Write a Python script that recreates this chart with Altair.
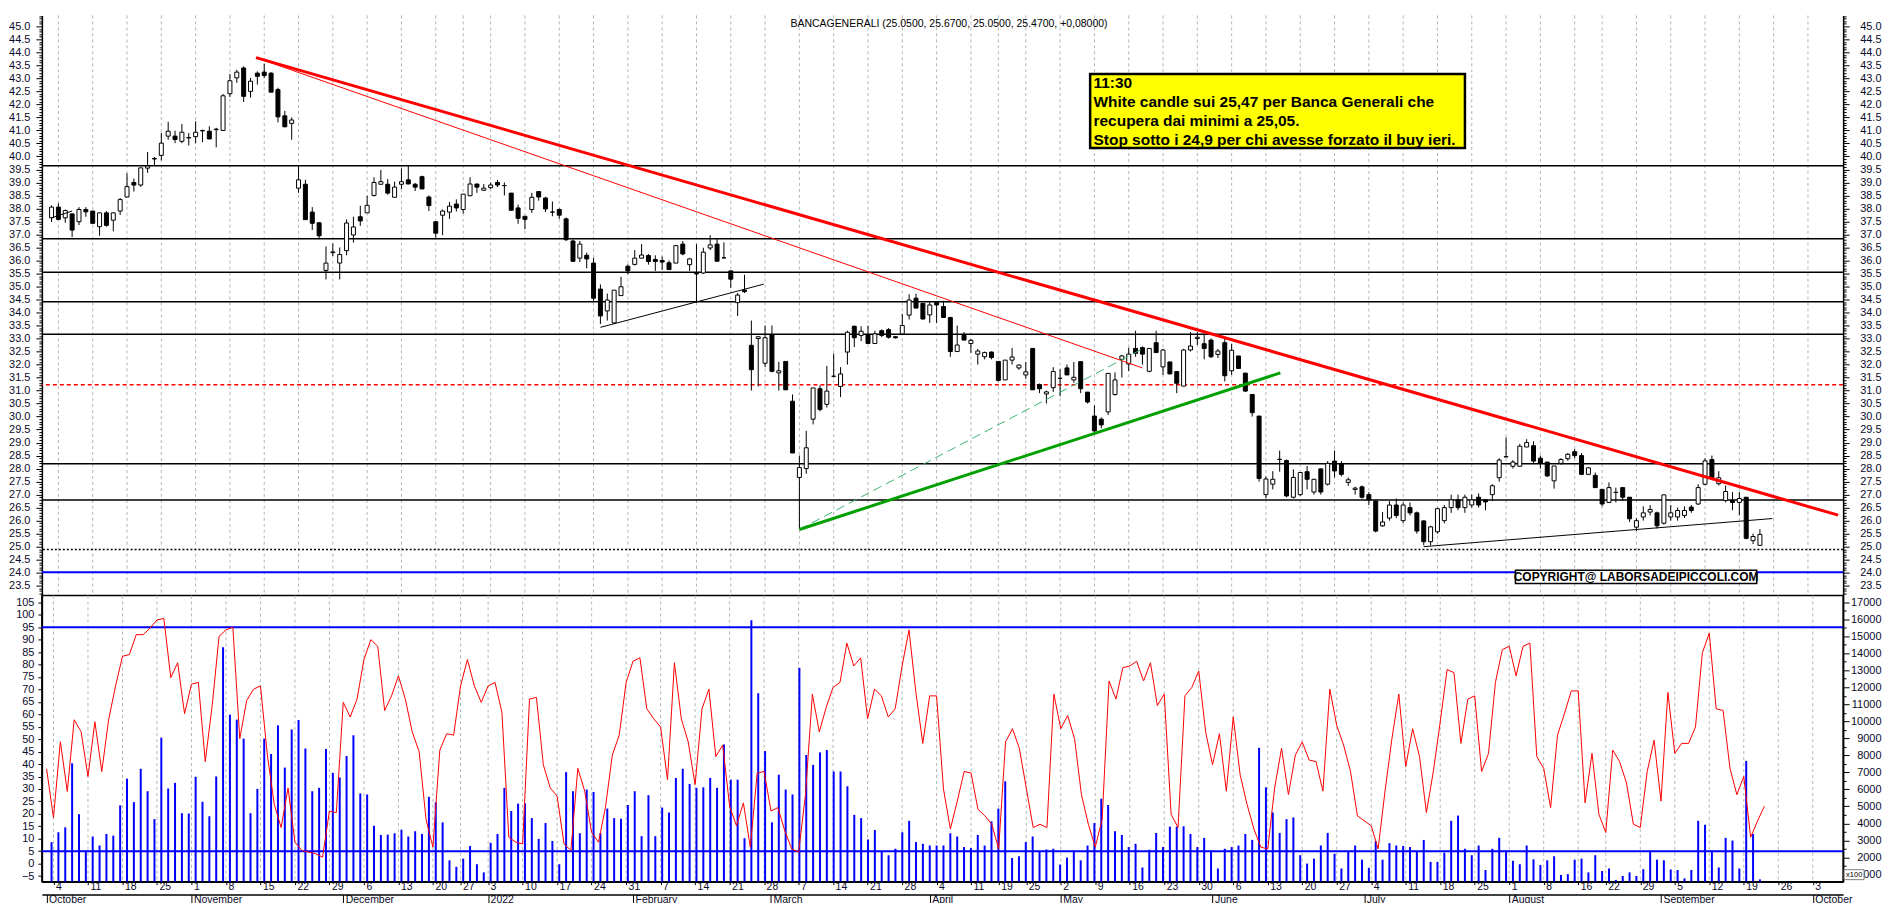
import json
import altair as alt
import pandas as pd

# ---------------- data ----------------
opens = [37.64,38.05,37.64,37.79,37.49,37.96,37.9,37.3,37.83,37.55,37.9,38.44,39.0,38.9,39.55,39.9,40.04,40.78,40.78,40.58,
         40.71,40.76,40.98,40.97,41.03,41.0,42.41,43.02,43.4,42.5,43.2,43.24,43.2,42.57,41.56,41.27,38.78,38.93,37.86,37.45,
         35.62,36.3,35.9,36.38,36.98,37.68,37.83,38.5,38.93,38.93,38.43,38.93,39.1,38.93,39.22,38.44,37.49,37.74,37.86,38.17,
         37.96,38.49,38.94,38.7,38.8,39.0,38.88,38.59,38.02,37.7,37.96,38.65,38.4,37.86,37.96,37.6,36.75,36.09,36.2,35.9,
         34.9,34.06,33.6,34.65,35.78,35.85,36.09,36.19,36.04,36.0,35.91,35.9,36.63,35.84,35.48,35.52,36.48,36.63,36.1,35.6,
         34.38,34.86,32.74,33.0,32.05,33.15,31.68,32.12,30.59,27.66,28.0,29.9,31.07,30.47,31.55,31.16,32.48,33.47,33.12,33.15,
         32.81,33.3,33.34,33.07,33.18,33.9,34.55,34.35,33.91,34.38,34.23,33.81,32.5,33.13,32.81,32.4,32.3,32.48,32.12,31.41,
         32.17,31.87,31.6,32.62,31.23,30.87,31.11,31.47,31.87,31.41,32.11,30.94,30.02,29.9,30.18,30.85,32.2,32.02,32.62,32.65,
         31.74,32.84,31.91,32.1,31.73,31.17,32.56,33.0,32.8,32.94,32.39,32.84,31.76,32.33,31.67,30.85,30.02,27.0,27.4,28.35,
         28.31,26.9,27.0,27.88,27.1,27.99,27.4,28.29,28.19,27.47,27.2,27.3,27.0,26.75,25.8,26.1,26.6,26.0,26.5,26.3,
         25.99,25.19,25.57,26.0,26.5,26.8,26.5,26.6,26.9,26.8,27.0,27.65,28.45,28.09,28.09,28.83,28.88,28.4,28.25,27.53,
         28.2,28.38,28.65,28.5,27.78,27.74,27.2,26.7,27.08,27.27,26.9,25.75,26.14,26.33,26.3,25.9,26.14,26.14,26.2,26.52,
         26.64,27.4,28.35,27.42,26.77,26.77,26.7,26.9,25.23,25.05]
highs = [38.12,38.2,37.96,37.8,38.05,38.05,37.9,37.83,37.9,37.85,38.4,39.35,39.15,39.56,40.17,39.98,40.9,41.33,40.99,41.25,
         40.9,41.35,41.03,41.16,41.1,42.4,43.17,43.33,43.46,43.02,43.27,43.56,43.24,42.64,41.75,41.5,39.67,39.1,38.05,37.45,
         36.54,36.65,36.5,37.58,37.68,38.1,38.49,39.2,39.48,39.13,39.03,39.54,39.64,38.98,39.26,38.5,37.49,37.96,38.25,38.35,
         38.55,39.2,38.94,38.94,39.0,39.1,39.0,38.59,38.15,37.7,38.6,38.65,38.45,38.27,38.0,37.65,36.8,36.75,36.3,36.1,
         35.08,34.73,34.86,35.37,35.85,36.4,36.63,36.25,36.2,36.15,36.0,36.6,36.75,36.1,36.63,36.49,36.97,36.85,36.7,35.6,
         34.75,35.45,33.69,33.07,33.5,33.5,32.1,32.12,30.85,28.5,29.45,31.1,31.2,31.95,32.42,31.9,33.3,33.5,33.47,33.5,
         33.3,33.35,33.4,33.1,33.95,34.7,34.72,34.35,34.44,34.4,34.45,33.81,33.5,33.25,32.98,32.6,32.5,32.5,32.12,32.17,
         32.64,32.0,32.1,32.62,31.27,31.0,31.9,31.82,32.0,32.1,32.11,30.94,30.43,29.97,31.66,31.7,32.37,32.65,33.3,32.7,
         32.62,33.3,32.6,32.1,31.75,32.6,33.25,33.25,33.2,33.0,32.6,33.05,32.8,32.33,31.68,30.85,30.02,27.7,27.9,28.69,
         28.35,27.97,27.85,28.1,27.6,27.99,28.29,28.69,28.29,27.66,27.3,27.35,27.1,26.8,26.33,26.75,26.85,26.7,26.7,26.35,
         26.0,25.8,26.5,26.6,27.0,27.0,27.0,27.0,27.05,26.8,27.4,28.4,29.2,28.33,28.95,29.13,29.05,28.5,28.25,28.1,
         28.4,28.6,28.75,28.6,28.05,27.85,27.2,27.47,27.27,27.27,26.9,26.1,26.55,26.6,26.35,27.0,26.6,26.5,26.55,26.6,
         27.4,28.4,28.5,27.9,27.35,27.1,27.1,26.9,25.5,25.67]
lows = [37.48,37.55,37.45,36.9,37.36,37.68,37.4,36.95,37.3,37.12,37.75,38.43,38.65,38.83,39.37,39.66,39.85,40.64,40.51,40.51,
        40.42,40.51,40.55,40.67,40.35,41.0,42.28,42.83,42.09,42.26,42.76,43.02,42.47,41.31,41.12,40.64,38.6,37.57,37.17,36.82,
        35.27,36.17,35.27,36.2,36.69,37.33,37.83,38.46,38.93,38.53,38.43,38.75,38.94,38.67,38.75,37.9,36.88,36.97,37.6,37.88,
        37.81,38.47,38.6,38.68,38.75,38.82,38.5,37.93,37.41,37.2,37.83,38.3,37.86,37.7,37.6,36.75,35.95,35.94,35.7,34.45,
        33.56,33.69,33.56,34.65,35.47,35.81,36.09,35.84,35.6,35.64,35.65,35.9,36.2,35.6,34.38,35.48,36.4,35.97,36.08,34.95,
        33.87,34.75,31.0,31.16,31.9,31.7,31.0,31.03,28.6,25.68,27.8,29.7,30.2,30.35,31.5,30.75,32.0,32.67,32.9,32.81,
        32.81,33.05,33.0,33.0,33.15,33.73,34.17,33.73,33.6,33.6,33.81,32.3,32.5,32.94,32.45,32.0,32.2,32.2,31.35,31.41,
        32.0,31.8,31.45,31.03,30.9,30.5,30.95,30.78,31.6,31.3,30.9,30.5,29.39,29.55,30.06,30.8,31.5,31.75,32.3,32.0,
        31.7,32.46,31.6,31.62,30.9,31.17,32.5,32.75,32.2,32.25,32.25,31.35,31.6,31.85,30.95,30.0,27.5,26.85,27.2,27.88,
        26.9,26.85,26.95,27.2,27.0,27.0,27.35,27.66,27.7,27.34,27.0,26.85,26.6,25.55,25.76,26.0,26.1,25.9,26.2,25.5,
        25.05,25.05,25.5,25.9,26.3,26.4,26.3,26.5,26.5,26.4,26.75,27.5,28.43,28.0,28.09,28.83,28.2,28.0,27.68,27.23,
        28.15,28.3,28.4,27.75,27.75,27.27,26.55,26.7,26.7,26.75,25.95,25.6,26.0,26.2,25.7,25.85,26.0,26.0,26.1,26.3,
        26.6,27.35,27.6,27.35,26.7,26.4,26.2,25.28,25.1,25.05]
closes = [38.05,37.58,37.92,37.17,37.96,37.87,37.43,37.83,37.35,37.83,38.34,38.84,38.9,39.56,39.63,39.92,40.51,40.97,40.65,40.93,
          40.73,40.93,41.0,40.67,41.05,42.33,42.91,43.24,42.31,42.89,43.08,43.11,42.47,41.52,41.14,41.4,39.1,37.57,37.43,36.95,
          35.9,36.33,36.23,37.44,37.29,37.52,38.12,39.0,39.03,38.59,38.82,39.03,38.94,38.82,38.75,38.11,37.05,37.9,38.09,38.02,
          38.55,38.94,38.82,38.78,38.9,38.9,38.88,37.93,37.62,37.58,38.43,38.44,37.98,37.86,37.74,36.8,35.97,36.63,36.06,34.55,
          33.87,34.48,34.86,34.99,35.6,36.09,36.21,35.96,35.96,35.94,35.65,36.57,36.25,36.06,35.5,36.32,36.6,35.97,36.1,35.28,
          34.67,34.8,31.8,33.07,33.03,31.74,31.76,31.03,28.6,28.04,28.8,31.1,30.27,30.98,31.55,31.64,33.24,33.03,33.28,32.81,
          33.18,33.12,33.05,33.03,33.5,34.48,34.17,33.75,34.29,34.29,33.81,32.5,32.75,32.94,32.93,32.52,32.46,32.27,31.39,32.17,
          32.29,31.98,31.72,31.03,31.07,30.95,31.73,31.47,31.6,31.51,31.07,30.56,29.45,29.68,31.66,31.41,32.33,32.4,32.43,32.4,
          32.62,32.46,32.56,31.64,31.28,32.56,32.71,33.05,32.62,32.3,32.52,31.57,32.55,31.85,30.98,30.15,27.62,27.6,27.59,28.36,
          26.95,27.66,27.85,27.59,27.59,27.1,28.2,27.91,27.78,27.57,27.25,26.9,26.8,25.6,25.95,26.6,26.2,26.6,26.3,25.6,
          25.19,25.76,26.46,26.5,26.8,26.5,26.9,26.8,26.6,26.72,27.34,28.33,28.46,28.25,28.86,29.0,28.29,28.2,27.72,28.1,
          28.35,28.55,28.5,27.78,28.03,27.27,26.64,27.27,27.09,26.9,26.07,26.0,26.3,26.43,25.8,26.99,26.3,26.39,26.39,26.39,
          27.27,28.3,27.65,27.65,27.12,26.7,26.85,25.32,25.39,25.47]
volumes = [2900,3480,3770,7530,4540,2410,3230,2700,3380,3280,5060,6630,5250,7210,5890,4250,9040,6050,6380,4600,
           4580,6740,5270,4420,6760,14350,10390,10100,8980,4600,6030,8980,8080,9760,7280,9520,10080,8400,5890,6090,
           8370,6970,6700,7960,9180,5760,5700,3860,3320,3340,3420,3630,3230,3540,3380,5560,5240,4060,1830,1450,
           1930,2670,1600,1120,2860,3380,6090,4730,5160,5180,4310,3090,4020,2960,1600,7010,5890,3420,5990,5850,
           3420,4870,4310,4270,5080,5890,3250,5660,3250,4930,4640,6670,7210,6320,6090,6120,6670,6090,8640,6570,
           6570,3130,15940,11650,8250,4060,6860,5990,5700,13140,8020,7440,8170,8310,7050,7050,6180,4500,4310,3050,
           3610,2320,2130,2510,3480,4150,2900,2800,2700,2700,2700,3420,3230,2610,2550,3320,2700,4120,4870,6470,
           1970,2070,2900,3230,2320,2470,2510,1580,1990,2410,1830,2700,4020,5450,5080,3540,3320,2610,2800,1410,
           2450,3440,2610,3810,3810,3830,3380,2610,3150,2410,1350,2510,2610,2700,3380,3030,8440,6120,4640,3440,
           4250,4350,2130,1640,1930,2700,3440,2220,1350,2320,2700,1870,1390,2960,1870,2840,2700,2670,2610,2320,
           3030,1740,1740,2280,4150,4460,2510,2130,2700,1260,2510,3150,2410,1800,1600,2700,1890,1550,1830,2070,
           970,1020,1870,1930,1120,2130,1200,1350,680,910,1120,910,1310,2410,1870,1830,1290,1260,770,1260,
           4150,3920,2410,1410,3150,2990,1350,7670,3380,710]
osc = [38,18.5,49,29,57.8,53,35,57,37,58,71.4,83.3,84,92,92,94.6,97.9,98.5,74.7,80.7,
       60.2,72.1,72.8,41,63.5,91.3,93.9,95,50.2,65.5,70.1,71.4,43.6,23.8,14.5,30.4,8.6,5.3,4.6,4,
       2.6,21.1,20.5,64.8,58.9,66.1,82,90,87.3,61.5,67.4,75.4,66.1,52.9,45,17.8,6.6,45.6,52.2,51.6,
       71.4,82,71.4,64.8,71.4,72.8,60.8,10.6,8.6,7.9,66.1,66.8,39.7,30.4,27.1,7.9,5.3,38.3,29.1,12.5,
       8.6,22.5,43.6,51.6,72.8,81.3,82.7,62.2,58.2,54.9,33.7,80.7,58.2,48.9,31.7,62.2,70.1,43,47.6,23.1,
       15.2,24.4,6.6,36.4,37,21.1,22.5,13.2,5.9,4.6,27.7,68.1,52.9,62.8,70.8,72.8,88.6,79.4,82.7,58.2,
       70.1,67.4,58.9,62.2,79.4,93.9,68.8,48.3,67.4,67.4,30,13.9,25.1,37,36.4,21.8,19.2,15.8,5.9,48.9,
       54.2,46.3,30.4,14.5,15.8,14.5,68.1,54.2,59.5,50.2,27.7,15.8,6.6,17.8,73.4,66.1,78.7,79.4,81.3,73.4,
       80.7,63.5,68.1,19.8,14.5,67.4,70.8,77.4,52.9,39.7,52.2,29.1,58.9,35.7,23.8,13.9,6.6,5.9,30.4,46.3,
       27.7,43.6,48.9,41.6,41,29.1,70.1,55.5,47.6,37,19.2,17.2,15.2,5.9,29.1,50.2,68.1,39,54.2,43,
       20.5,37,56.9,78,76.7,48.3,66.1,67.4,37,44.3,72.8,86,87.3,75.4,87.3,88.6,43,38.3,22.5,51.6,
       60.2,69.4,69.4,24.4,44.3,19.8,12.5,45.6,41,32.4,15.8,14.5,37,49.6,25.1,68.8,44.3,48.3,48.3,54.9,
       84.7,92.6,62.2,61.5,38.3,27.7,35,10.6,17.2,23.1]

week_ticks = [1,6,11,16,21,26,31,36,41,46,51,56,60,64,69,74,79,84,89,94,99,104,109,114,119,124,129,134,138,142,
              147,152,157,162,167,172,177,182,187,192,197,202,207,212,217,222,226,231,236,241,246,251,256]
week_labels = ['4','11','18','25','1','8','15','22','29','6','13','20','27','3','10','17','24','31','7','14','21','28',
               '7','14','21','28','4','11','19','25','2','9','16','23','30','6','13','20','27','4','11','18','25',
               '1','8','16','22','29','5','12','19','26','3']
month_ticks = [0,21,43,64,85,105,128,147,169,191,212,234,256]
month_labels = ['October','November','December','2022','February','March','April','May','June','July','August',
                'September','October']

levels_black = [39.64,36.84,35.55,34.41,33.16,28.19,26.79]
level_red_dashed = [31.22]
level_dotted = [24.89]
level_blue = [24.02]
osc_levels = [95,5]

# trend lines drawn on the chart: (start index, start price, end index, end price)
tl_red_thick = [(29.8,43.8,260.4,26.21)]
tl_red_thin = [(29.8,43.8,159.0,31.87)]
tl_green_thick = [(109.0,25.66,179.1,31.68)]
tl_green_dash = [(109.0,25.66,159.0,32.6)]
tl_black = [(80.0,33.43,103.8,35.09),(200.0,25.0,250.8,26.08),(0.0,37.64,3.0,37.9)]

title_text = "BANCAGENERALI (25.0500, 25.6700, 25.0500, 25.4700, +0,08000)"
note_text = "11:30\nWhite candle sui 25,47 per Banca Generali che\nrecupera dai minimi a 25,05.\nStop sotto i 24,9 per chi avesse forzato il buy ieri."
copyright_text = "COPYRIGHT@ LABORSADEIPICCOLI.COM"
scale_note = "x100"

# ---------------- layout ----------------
W = 1807
H_TOP = 582
H_BOT = 287
X_DOM = [-0.68, 260.4]
P_DOM = [23.12, 45.42]
O_DOM = [-7.25, 107.7]
V_DOM = [577, 17388]
FONT = "Liberation Sans"
LBL = "#0a0a2a"
GRID = "#b5b5b5"

N = len(opens)
df = pd.DataFrame({"i": list(range(N)), "o": opens, "h": highs, "l": lows, "c": closes,
                   "v": volumes, "s": osc})

xs = alt.Scale(domain=X_DOM, nice=False, zero=False)
ps = alt.Scale(domain=P_DOM, nice=False, zero=False)
oscs = alt.Scale(domain=O_DOM, nice=False, zero=False)
vs = alt.Scale(domain=V_DOM, nice=False, zero=False)


def xq(f="i", axis=None):
    return alt.X(f"{f}:Q", scale=xs, axis=axis)


def py(f, axis=None):
    return alt.Y(f"{f}:Q", scale=ps, axis=axis)


half_test = "abs(datum.value*2 - round(datum.value*2)) < 0.01"
price_vals = [round(23.2 + 0.1 * k, 1) for k in range(223)]
axis_common = dict(labelFont=FONT, labelFontSize=11, labelColor=LBL, domainColor="black", domainWidth=1.5,
                   tickColor="black", tickWidth=1, grid=False, title=None, labelOverlap=False,
                   labelFlush=False, labelBound=False)
left_price_axis = alt.Axis(orient="left", values=price_vals,
                           labelExpr=f"{half_test} ? format(datum.value, '.1f') : ''",
                           tickSize={"condition": {"test": half_test, "value": 6}, "value": 3},
                           labelPadding=6, **axis_common)
right_price_axis = alt.Axis(orient="right", values=price_vals,
                            labelExpr=f"{half_test} ? format(datum.value, '.1f') : ''",
                            tickSize={"condition": {"test": half_test, "value": 6}, "value": 3},
                            labelAlign="right", labelPadding=32, **axis_common)

grid_df = pd.DataFrame({"t": week_ticks})


def grid_layer():
    return alt.Chart(grid_df).mark_rule(color=GRID, strokeDash=[3, 3], strokeWidth=1).encode(x=xq("t"))


def hline(vals, scale, **style):
    d = pd.DataFrame({"p": vals})
    return alt.Chart(d).mark_rule(**style).encode(y=alt.Y("p:Q", scale=scale, axis=None))


def tline(segs, **style):
    d = pd.DataFrame(segs, columns=["x1", "y1", "x2", "y2"])
    return alt.Chart(d).mark_rule(clip=True, **style).encode(
        x=xq("x1"), x2="x2:Q", y=py("y1"), y2="y2:Q")


wicks = alt.Chart(df).mark_rule(color="black", strokeWidth=1).encode(
    x=xq(), y=py("l", left_price_axis), y2="h:Q")
bodies = alt.Chart(df).mark_bar(size=4, stroke="black", strokeWidth=1).encode(
    x=xq(), y=py("o"), y2="c:Q",
    fill=alt.condition("datum.c >= datum.o", alt.value("white"), alt.value("black")))
right_axis_layer = alt.Chart(df).mark_point(opacity=0).encode(x=xq(), y=py("h", right_price_axis))

title = alt.Chart(pd.DataFrame({"t": [title_text]})).mark_text(
    align="left", baseline="middle", font=FONT, fontSize=10.5, color="black").encode(
    text="t:N", x=alt.value(751), y=alt.value(9))
note_box = alt.Chart(pd.DataFrame({"t": [0]})).mark_rect(fill="#ffff00", stroke="black", strokeWidth=2.5).encode(
    x=alt.value(1051.6), x2=alt.value(1427.6), y=alt.value(58.7), y2=alt.value(132.9))
note = alt.Chart(pd.DataFrame({"t": [note_text]})).mark_text(
    align="left", baseline="alphabetic", font=FONT, fontSize=15.5, fontWeight="bold", color="black",
    lineBreak="\n", lineHeight=18.9).encode(text="t:N", x=alt.value(1055), y=alt.value(73.2))
copy_box = alt.Chart(pd.DataFrame({"t": [0]})).mark_rect(fill="white", stroke="black", strokeWidth=1.5).encode(
    x=alt.value(1478.3), x2=alt.value(1720.3), y=alt.value(556.7), y2=alt.value(569.8))
copy_txt = alt.Chart(pd.DataFrame({"t": [copyright_text]})).mark_text(
    align="center", baseline="middle", font="Liberation Sans Narrow, Arial Narrow, Liberation Sans",
    fontSize=12, fontWeight="bold", color="black").encode(text="t:N", x=alt.value(1599.3), y=alt.value(563.5))

top = alt.layer(
    grid_layer(),
    hline(levels_black, ps, color="black", strokeWidth=1.5),
    hline(level_red_dashed, ps, color="#ff0000", strokeWidth=1.5, strokeDash=[4, 3]),
    hline(level_dotted, ps, color="black", strokeWidth=1.5, strokeDash=[2, 2]),
    hline(level_blue, ps, color="#0000ff", strokeWidth=2),
    wicks, bodies,
    tline(tl_red_thin, color="#ff0000", strokeWidth=1),
    tline(tl_red_thick, color="#ff0000", strokeWidth=3),
    tline(tl_green_dash, color="#3cb371", strokeWidth=1, strokeDash=[9, 5]),
    tline(tl_green_thick, color="#00a000", strokeWidth=3),
    tline(tl_black, color="black", strokeWidth=1),
    right_axis_layer,
    title, note_box, note, copy_box, copy_txt,
).properties(width=W, height=H_TOP, view=alt.ViewBackground(stroke="transparent")).resolve_scale(y="independent")

# ---------------- lower panel ----------------
osc_axis = alt.Axis(orient="left", values=list(range(-5, 110, 5)), tickSize=4, labelPadding=4, **axis_common)
vol_vals = list(range(1000, 17500, 500))
vol_axis = alt.Axis(orient="right", values=vol_vals,
                    labelExpr="datum.value % 1000 == 0 ? format(datum.value, 'd') : ''",
                    tickSize={"condition": {"test": "datum.value % 1000 == 0", "value": 6}, "value": 3},
                    labelAlign="right", labelPadding=32, **axis_common)
wk_expr = f"{json.dumps(week_labels)}[indexof({json.dumps(week_ticks)}, datum.value)]"
mo_expr = f"{json.dumps(month_labels)}[indexof({json.dumps(month_ticks)}, datum.value)]"
wk_common = dict(axis_common)
wk_common["labelFontSize"] = 10.5
week_axis = alt.Axis(orient="bottom", values=week_ticks, labelExpr=wk_expr, tickSize=3,
                     labelAlign="left", labelBaseline="top", labelPadding=-3, labelOffset=2, **wk_common)
month_axis = alt.Axis(orient="bottom", offset=13, values=month_ticks, labelExpr=mo_expr, tickSize=12,
                      labelAlign="left", labelBaseline="top", labelPadding=-12, labelOffset=2, **wk_common)

vol = alt.Chart(df).mark_bar(size=2, color="#0000ff").encode(
    x=xq(), y=alt.Y("v:Q", scale=vs, axis=vol_axis), y2=alt.datum(V_DOM[0]))
osc_line = alt.Chart(df).mark_line(color="#ff0000", strokeWidth=1).encode(
    x=xq("i", week_axis), y=alt.Y("s:Q", scale=oscs, axis=osc_axis))
month_layer = alt.Chart(df).mark_point(opacity=0).encode(
    x=xq("i", month_axis), y=alt.Y("s:Q", scale=oscs, axis=None))
x100_box = alt.Chart(pd.DataFrame({"t": [0]})).mark_rect(fill="white", stroke="#808080", strokeWidth=1).encode(
    x=alt.value(W + 1), x2=alt.value(W + 21), y=alt.value(H_BOT - 12), y2=alt.value(H_BOT - 2))
x100 = alt.Chart(pd.DataFrame({"t": [scale_note]})).mark_text(
    align="left", baseline="middle", font=FONT, fontSize=7.5, color="black").encode(
    text="t:N", x=alt.value(W + 3), y=alt.value(H_BOT - 7))

bottom = alt.layer(
    grid_layer(),
    hline(osc_levels, oscs, color="#0000ff", strokeWidth=2),
    vol, osc_line, month_layer, x100_box, x100,
).properties(width=W, height=H_BOT, view=alt.ViewBackground(stroke="black", strokeWidth=1.5)).resolve_scale(
    x="independent", y="independent")

chart = alt.vconcat(top, bottom, spacing=0, bounds="flush").resolve_scale(x="independent").properties(
    padding=0, background="white")

chart.save("out.html", embed_options={"renderer": "svg", "actions": False})
